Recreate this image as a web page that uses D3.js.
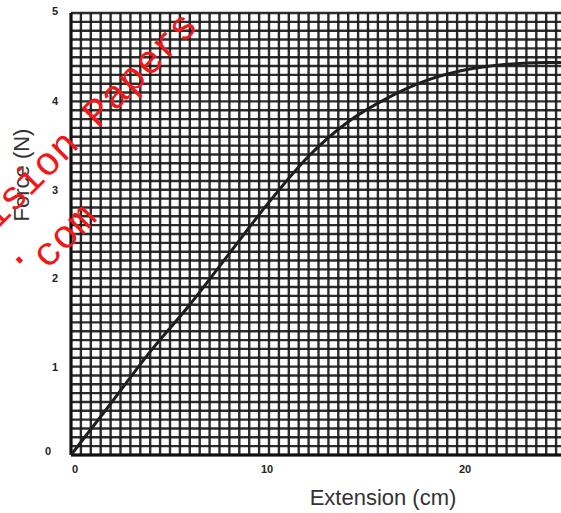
<!DOCTYPE html>
<html>
<head>
<meta charset="utf-8">
<script src="https://cdn.jsdelivr.net/npm/d3@7"></script>
<style>
  body { margin: 0; background: #fff; }
  svg { display: block; }
</style>
</head>
<body>
<div id="chart"></div>
<script>
// values
var extension = [0, 2, 4, 6, 8, 10, 12, 14, 16, 18, 20, 22, 24, 25];
var force = [0, 0.58, 1.17, 1.7, 2.28, 2.86, 3.38, 3.77, 4.04, 4.24, 4.36, 4.42, 4.44, 4.44];
var xTicks = [0, 10, 20];
var yTicks = [0, 1, 2, 3, 4, 5];
var watermark = ["Revision Papers", ".", "com"];

var width = 561;
var height = 513;
var plotLeft = 71, plotTop = 13, plotBottom = 455;

var x = d3.scaleLinear().domain([0, 25]).range([plotLeft, plotLeft + 25 * 19.8]);
var y = d3.scaleLinear().domain([0, 5]).range([plotBottom, plotTop]);

var svg = d3.select('#chart')
  .append('svg')
  .attr('width', width)
  .attr('height', height);

var grid = svg.append('g').attr('class', 'grid');

// fine graph paper: 0.5 cm across, 0.1 N up
var xLines = d3.range(0, 25.01, 0.5);
var yLines = d3.range(0, 50.01, 1).map(function(d) { return d / 10; });

grid.selectAll('line.v')
  .data(xLines)
  .enter()
  .append('line')
  .attr('x1', function(d) { return x(d); })
  .attr('x2', function(d) { return x(d); })
  .attr('y1', y(5))
  .attr('y2', y(0))
  .attr('stroke', '#1a1a1a')
  .attr('stroke-opacity', 0.92)
  .attr('stroke-width', 2.4);

grid.selectAll('line.h')
  .data(yLines)
  .enter()
  .append('line')
  .attr('y1', function(d) { return y(d); })
  .attr('y2', function(d) { return y(d); })
  .attr('x1', x(0))
  .attr('x2', x(25))
  .attr('stroke', '#1a1a1a')
  .attr('stroke-opacity', 0.92)
  .attr('stroke-width', 2.4);

// heavier edges
svg.append('line')
  .attr('x1', x(0)).attr('x2', x(0))
  .attr('y1', y(5)).attr('y2', y(0))
  .attr('stroke', '#111').attr('stroke-width', 3);
svg.append('line')
  .attr('x1', x(0)).attr('x2', x(25))
  .attr('y1', y(0)).attr('y2', y(0))
  .attr('stroke', '#111').attr('stroke-width', 3);

// the curve
var line = d3.line()
  .x(function(d, i) { return x(extension[i]); })
  .y(function(d) { return y(d); })
  .curve(d3.curveMonotoneX);

svg.append('path')
  .datum(force)
  .attr('d', line)
  .attr('fill', 'none')
  .attr('stroke', '#1e1e1e')
  .attr('stroke-width', 3);

// tick labels
svg.selectAll('text.xt')
  .data(xTicks)
  .enter()
  .append('text')
  .attr('x', function(d) { return x(d) + (d === 0 ? 4 : -2); })
  .attr('y', 473)
  .attr('text-anchor', 'middle')
  .style('font-family', 'Liberation Sans, Arial, sans-serif')
  .style('font-weight', 'bold')
  .style('font-size', '11px')
  .attr('fill', '#222')
  .text(function(d) { return d; });

svg.selectAll('text.yt')
  .data(yTicks)
  .enter()
  .append('text')
  .attr('x', function(d) { return d === 0 ? 48 : 55; })
  .attr('y', function(d) { return y(d) + (d === 0 ? 0 : d === 5 ? 2 : 4); })
  .attr('text-anchor', 'middle')
  .style('font-family', 'Liberation Sans, Arial, sans-serif')
  .style('font-weight', 'bold')
  .style('font-size', '11px')
  .attr('fill', '#222')
  .text(function(d) { return d; });

// axis titles
svg.append('text')
  .attr('x', 383)
  .attr('y', 505)
  .attr('text-anchor', 'middle')
  .style('font-family', 'Liberation Sans, Arial, sans-serif')
  .style('font-size', '22px')
  .attr('fill', '#333')
  .text('Extension (cm)');

svg.append('text')
  .attr('transform', 'translate(29,175) rotate(-90)')
  .attr('text-anchor', 'middle')
  .style('font-family', 'Liberation Sans, Arial, sans-serif')
  .style('font-size', '22px')
  .attr('fill', '#333')
  .text('Force (N)');

// red watermark across the top-left
var wmPos = [[-205, 7], [-149, 47], [-124, 71]];

var wm = svg.append('g')
  .attr('transform', 'translate(85,132) rotate(-45)');

wm.selectAll('text')
  .data(watermark)
  .enter()
  .append('text')
  .attr('x', function(d, i) { return wmPos[i][0]; })
  .attr('y', function(d, i) { return wmPos[i][1]; })
  .style('font-family', 'Liberation Mono, Courier New, monospace')
  .style('font-size', '40px')
  .attr('fill', '#f01818')
  .text(function(d) { return d; });
</script>
</body>
</html>
